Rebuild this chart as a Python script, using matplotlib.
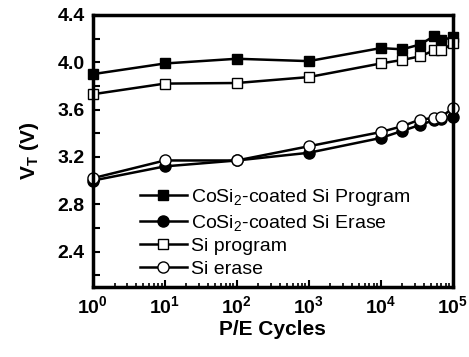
import matplotlib
matplotlib.use("Agg")
import matplotlib.pyplot as plt
from matplotlib.ticker import MultipleLocator, LogLocator, NullFormatter, FuncFormatter
import numpy as np

plt.rcParams['font.family'] = ['Liberation Sans', 'DejaVu Sans']
plt.rcParams['mathtext.fontset'] = 'custom'
plt.rcParams['mathtext.rm'] = 'Liberation Sans'
plt.rcParams['mathtext.bf'] = 'Liberation Sans:bold'
plt.rcParams['mathtext.default'] = 'regular'

# P/E cycles
cycles = [1, 10, 100, 1000, 1e4, 2e4, 3.5e4, 5.5e4, 7e4, 1e5]
# threshold voltages (V)
cosi_prog = [3.90, 3.99, 4.03, 4.01, 4.12, 4.11, 4.15, 4.22, 4.19, 4.21]
cosi_erase = [3.00, 3.12, 3.17, 3.235, 3.36, 3.42, 3.47, 3.51, 3.52, 3.54]
si_prog = [3.73, 3.82, 3.825, 3.875, 3.99, 4.02, 4.05, 4.10, 4.10, 4.16]
si_erase = [3.02, 3.17, 3.17, 3.29, 3.41, 3.46, 3.515, 3.53, 3.54, 3.61]

fig = plt.figure(figsize=(4.69, 3.57), dpi=100)
ax = fig.add_axes([0.198, 0.196, 0.767, 0.762])

ax.plot(cycles, cosi_prog, '-s', color='k', mfc='k', mec='k', ms=7.5, lw=1.8,
        label='CoSi$_2$-coated Si Program', clip_on=False)
ax.plot(cycles, cosi_erase, '-o', color='k', mfc='k', mec='k', ms=8, lw=1.8,
        label='CoSi$_2$-coated Si Erase', clip_on=False)
ax.plot(cycles, si_prog, '-s', color='k', mfc='white', mec='k', ms=7.5, lw=1.8,
        label='Si program', clip_on=False)
ax.plot(cycles, si_erase, '-o', color='k', mfc='white', mec='k', ms=8, lw=1.8,
        label='Si erase', clip_on=False)

ax.set_xscale('log')
ax.set_xlim(1, 1e5)
ax.set_ylim(2.1, 4.4)
ax.yaxis.set_major_locator(MultipleLocator(0.4))
ax.yaxis.set_minor_locator(MultipleLocator(0.2))
ax.yaxis.set_major_formatter(FuncFormatter(lambda v, p: '%.1f' % v))
ax.xaxis.set_major_locator(LogLocator(base=10, numticks=10))
ax.xaxis.set_major_formatter(FuncFormatter(
    lambda v, p: r'$\mathbf{10^{%d}}$' % int(round(np.log10(v)))))
ax.xaxis.set_minor_locator(LogLocator(base=10, subs=np.arange(2, 10), numticks=20))
ax.xaxis.set_minor_formatter(NullFormatter())

ax.tick_params(axis='both', which='major', direction='in', length=5, width=1.5,
               labelsize=14, top=False, right=False, pad=6)
ax.tick_params(axis='both', which='minor', direction='in', length=3, width=1.2,
               top=False, right=False)
ax.tick_params(axis='y', which='minor', length=5, width=1.5)
for lab in ax.get_yticklabels():
    lab.set_fontweight('bold')

for s in ax.spines.values():
    s.set_linewidth(2.5)

ax.set_xlabel('P/E Cycles', fontsize=15, fontweight='bold', labelpad=2)
ax.set_ylabel(r'$\mathbf{V_T}$ (V)', fontsize=15, fontweight='bold', labelpad=12)

ax.legend(loc='upper left', bbox_to_anchor=(0.131, 0.368), frameon=False,
          fontsize=14, borderpad=0, borderaxespad=0, handlelength=2.4,
          handletextpad=0.2, labelspacing=0.25)

fig.savefig('out.png', dpi=100)
